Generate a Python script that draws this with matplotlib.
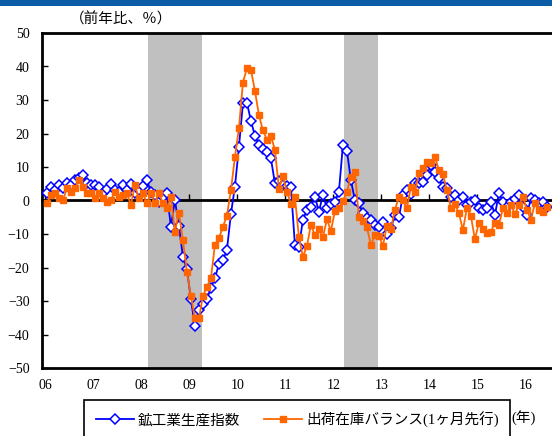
import matplotlib
matplotlib.use("Agg")
import matplotlib.pyplot as plt
from matplotlib.patches import Rectangle
import numpy as np

# Monthly series, Jan 2006 - Jun 2016 (year-on-year, %)
start_year = 2006
production = [
    2.1, 4.1, 3.1, 4.6, 3.7, 5.1, 4.5, 6.1, 6.6, 7.6, 5.1, 4.6,
    4.6, 4.1, 2.1, 3.5, 4.9, 3.0, 2.5, 4.6, 3.0, 4.9, 2.1, 3.0,
    4.3, 6.2, 2.5, 1.6, -0.4, 1.0, 2.1, -7.8, 0.1, -7.6, -16.8, -20.5,
    -29.5, -37.5, -32.7, -31.0, -29.5, -26.0, -23.2, -19.0, -17.8, -14.8, -4.0, 4.1,
    15.9, 29.0, 29.2, 23.8, 19.3, 16.6, 15.4, 14.6, 12.6, 5.1, 5.8, 4.6,
    4.3, 4.1, -13.3, -13.8, -5.8, -2.8, -1.9, 1.1, -3.3, 1.6, -2.3, -1.0,
    -0.4, 2.6, 16.6, 14.9, 6.0, 0.1, -0.8, -3.8, -5.3, -5.8, -7.3, -7.8,
    -6.3, -10.0, -8.3, -4.3, -5.0, 1.6, 3.1, 2.0, 5.1, 5.1, 5.6, 7.6,
    10.6, 8.6, 6.6, 4.1, 3.6, 1.1, 1.6, 0.1, 1.1, -1.3, -0.4, 0.1,
    -2.3, -2.8, -2.3, -0.4, -4.3, 2.1, -0.4, -1.9, -0.4, 0.5, 1.6, -1.9,
    -4.3, 0.6, 0.1, -0.8, -0.4, -1.9,
]
balance = [
    -0.8, 1.6, 2.1, 0.6, 0.1, 3.6, 2.6, 3.6, 6.1, 4.1, 2.1, 2.1,
    0.6, 2.1, 0.6, -0.4, 0.1, 2.6, 1.1, 1.6, 2.1, -1.3, 4.6, 0.6,
    2.1, -0.8, 2.1, -0.8, 2.3, -0.8, -2.3, 1.0, -9.3, -3.6, -11.8, -21.3,
    -28.5, -35.2, -35.2, -28.5, -25.7, -23.2, -13.3, -11.3, -7.8, -4.6, 3.1, 12.9,
    21.5, 35.2, 39.5, 39.0, 32.8, 25.5, 21.0, 18.1, 19.3, 15.1, 3.5, 7.3,
    2.6, -1.0, 1.1, -11.0, -16.8, -13.6, -7.3, -10.3, -8.6, -11.0, -5.6, -9.1,
    -3.1, -2.1, -0.1, 2.6, 7.1, 8.6, -5.0, -6.0, -8.0, -13.3, -10.3, -10.6,
    -13.6, -7.5, -8.5, -2.8, 1.1, 0.1, -2.3, 4.1, 2.5, 8.1, 9.8, 11.6,
    11.1, 13.1, 9.0, 7.8, 3.2, -2.3, -1.0, -3.8, -8.8, -2.3, -4.6, -11.6,
    -6.6, -8.6, -9.8, -9.3, -6.6, -7.3, -2.3, -3.8, -1.3, -4.0, -1.3, 1.1,
    -2.8, -5.8, -0.8, -2.8, -3.3, -1.9,
]
recessions = [(2008.14, 2009.27), (2012.22, 2012.93)]
year_ticks = list(range(2006, 2017))
year_labels = [f"{y % 100:02d}" for y in year_ticks]
y_ticks = list(range(-50, 51, 10))

series_names = ["鉱工業生産指数", "出荷在庫バランス(1ヶ月先行)"]
unit_label = "（前年比、％）"
year_unit = "(年)"

months = np.arange(len(production))
x = start_year + (months + 0.4) / 12.0

num_font = "Liberation Serif"
jp_fonts = ["Liberation Serif", "Noto Sans CJK JP", "DejaVu Sans"]

W, H = 552, 436
fig = plt.figure(figsize=(W / 100, H / 100), dpi=100)

# header band
fig.patches.append(Rectangle((0, 1 - 6 / H), 1, 6 / H, transform=fig.transFigure,
                             facecolor="#0b5ea5", edgecolor="none"))

ax = fig.add_axes([42 / W, 1 - 368 / H, (W - 42) / W, 335 / H])
ax.set_xlim(2005.931, 2016.556)
ax.set_ylim(-50, 50)

for a, b in recessions:
    ax.axvspan(a, b, color="#c0c0c0", lw=0, zorder=0.5)

ax.plot(x, production, color="#0000ff", lw=1.3, marker="D", ms=5,
        mfc="white", mec="#0000ff", mew=1.1, zorder=3, label=series_names[0])
ax.plot(x, balance, color="#ff6600", lw=1.3, marker="s", ms=4.5,
        mfc="#ff6600", mec="#ff6600", zorder=4, label=series_names[1])

for side in ("left", "bottom", "top"):
    ax.spines[side].set_linewidth(2)
    ax.spines[side].set_color("black")
ax.spines["right"].set_visible(False)

ax.set_yticks(y_ticks)
ax.set_yticklabels([f"{v}".replace("-", "\u2212") for v in y_ticks],
                   fontfamily=num_font, fontsize=10)
ax.tick_params(axis="y", direction="in", length=4, width=1, pad=9)

ax.set_xticks(year_ticks)
ax.set_xticklabels(year_labels, fontfamily=num_font, fontsize=10)
ax.tick_params(axis="x", length=0, pad=8)

# zero line with year ticks
sec = ax.secondary_xaxis(0.5)
sec.set_xticks(year_ticks)
sec.tick_params(direction="out", length=4, width=1, labeltop=False, labelbottom=False)
for sp in sec.spines.values():
    sp.set_linewidth(2)
sec.set_zorder(2)

fig.text(70 / W, 1 - 19 / H, unit_label, fontfamily=["Noto Sans CJK JP"], fontsize=10.5,
         ha="left", va="center")

handles, labels = ax.get_legend_handles_labels()
leg = fig.legend(handles, labels, loc="upper left",
                 bbox_to_anchor=(84 / W, 1 - 400 / H), ncol=2, borderaxespad=0,
                 frameon=True, fancybox=False, edgecolor="black", framealpha=1,
                 borderpad=0.8, handlelength=2.6, handletextpad=0.3,
                 columnspacing=1.6, prop={"family": jp_fonts, "size": 10.5})
leg.get_frame().set_linewidth(1.2)

fig.text(524 / W, 1 - 418 / H, year_unit, fontfamily=jp_fonts, fontsize=10.5,
         ha="center", va="center")

fig.savefig("out.png", dpi=100)
